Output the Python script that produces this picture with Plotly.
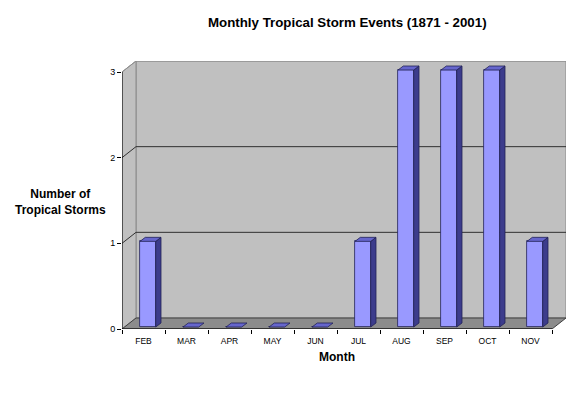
import plotly.graph_objects as go

months = ['FEB', 'MAR', 'APR', 'MAY', 'JUN', 'JUL', 'AUG', 'SEP', 'OCT', 'NOV']
storms = [1, 0, 0, 0, 0, 1, 3, 3, 3, 1]
y_ticks = [0, 1, 2, 3]

FONT = "Arial, Liberation Sans, sans-serif"
n = len(months)
ymax = max(y_ticks)
# 3D depth offsets (data units)
DX, DY = 14 / 43, 11 / 85.67
# bar geometry within a category
OFF, W, BDX, BDY, BZ = -0.081, 0.365, 0.123, 0.047, 0.023

xs = list(range(n))
fig = go.Figure()

# front faces
fig.add_trace(go.Bar(
    x=[i + OFF + W / 2 for i in xs], y=storms, base=BZ, width=W,
    marker=dict(color='#9999ff', line=dict(color='#222255', width=0.8)),
    hoverinfo='skip', showlegend=False))

sx, sy, tx, ty = [], [], [], []
for i, v in zip(xs, storms):
    x0 = i + OFF
    x1 = x0 + W
    top = v + BZ
    if v > 0:
        sx += [x1, x1 + BDX, x1 + BDX, x1, x1, None]
        sy += [BZ, BZ + BDY, top + BDY, top, BZ, None]
    tx += [x0, x1, x1 + BDX, x0 + BDX, x0, None]
    ty += [top, top, top + BDY, top + BDY, top, None]

fig.add_trace(go.Scatter(x=sx, y=sy, mode='lines', fill='toself',
                         fillcolor='#3c3c8c', line=dict(color='#222255', width=0.8),
                         hoverinfo='skip', showlegend=False))
fig.add_trace(go.Scatter(x=tx, y=ty, mode='lines', fill='toself',
                         fillcolor='#6666cc', line=dict(color='#222255', width=0.8),
                         hoverinfo='skip', showlegend=False))
# dummy for tick axis
fig.add_trace(go.Scatter(x=[0], y=[0], xaxis='x2', mode='markers',
                         marker=dict(opacity=0), hoverinfo='skip', showlegend=False))

L, R = -0.5, n - 0.5
shapes = []
# back wall
shapes.append(dict(type='rect', xref='x', yref='y', x0=L + DX, x1=R + DX, y0=DY, y1=ymax + DY,
                   fillcolor='#c0c0c0', line=dict(color='#8a8a8a', width=1), layer='below'))
# left wall
shapes.append(dict(type='path', xref='x', yref='y',
                   path=f"M {L},0 L {L+DX},{DY} L {L+DX},{ymax+DY} L {L},{ymax} Z",
                   fillcolor='#c0c0c0', line=dict(color='#8a8a8a', width=1), layer='below'))
# floor
shapes.append(dict(type='path', xref='x', yref='y',
                   path=f"M {L},0 L {R},0 L {R+DX},{DY} L {L+DX},{DY} Z",
                   fillcolor='#8c8c8c', line=dict(color='#404040', width=1), layer='below'))
# gridlines
for k in y_ticks[1:]:
    col = '#909090' if k == ymax else '#303030'
    shapes.append(dict(type='path', xref='x', yref='y',
                       path=f"M {L},{k} L {L+DX},{k+DY} L {R+DX},{k+DY}",
                       line=dict(color=col, width=1), layer='below'))
# axis lines
shapes.append(dict(type='line', xref='x', yref='y', x0=L, x1=L, y0=0, y1=ymax,
                   line=dict(color='#000000', width=1), layer='below'))
shapes.append(dict(type='line', xref='x', yref='y', x0=L, x1=R, y0=0, y1=0,
                   line=dict(color='#000000', width=1), layer='below'))

# page has an 8px body margin: figure is 568x386 so plot area lands at 122..566 x 61..329
fig.update_layout(
    width=568, height=386,
    margin=dict(l=114, r=10, t=53, b=65, autoexpand=False),
    paper_bgcolor='white', plot_bgcolor='rgba(0,0,0,0)',
    font=dict(family=FONT, color='black'),
    shapes=shapes,
    bargap=0,
    xaxis=dict(range=[L, R + DX], tickvals=xs, ticktext=months, ticks='outside',
               ticklen=4, tickcolor='rgba(0,0,0,0)', tickfont=dict(size=8.5, family=FONT),
               showgrid=False, zeroline=False, showline=False, fixedrange=True),
    xaxis2=dict(range=[L, R + DX], overlaying='x', anchor='y', side='bottom',
                tickvals=[i - 0.5 for i in range(n + 1)], ticks='outside', ticklen=4,
                tickcolor='black', showticklabels=False, showgrid=False, zeroline=False,
                showline=False),
    yaxis=dict(range=[0, ymax + DY], tickvals=y_ticks, ticks='outside', ticklen=4,
               tickcolor='black', tickfont=dict(size=9, family=FONT),
               showgrid=False, zeroline=False, showline=False),
    annotations=[
        dict(text='<b>Monthly Tropical Storm Events (1871 - 2001)</b>', xref='paper', yref='paper',
             x=(347 - 122) / 444, y=(329 - 22) / 268, xanchor='center', yanchor='middle',
             showarrow=False, font=dict(size=13.3, family=FONT)),
        dict(text='<b>Month</b>', xref='paper', yref='paper',
             x=(337 - 122) / 444, y=(329 - 357) / 268, xanchor='center', yanchor='middle',
             showarrow=False, font=dict(size=12, family=FONT)),
        dict(text='<b>Number of<br>Tropical Storms</b>', xref='paper', yref='paper',
             x=(61 - 122) / 444, y=(329 - 202) / 268, xanchor='center', yanchor='middle',
             showarrow=False, font=dict(size=12, family=FONT)),
    ],
)

fig.write_html("out.html")
